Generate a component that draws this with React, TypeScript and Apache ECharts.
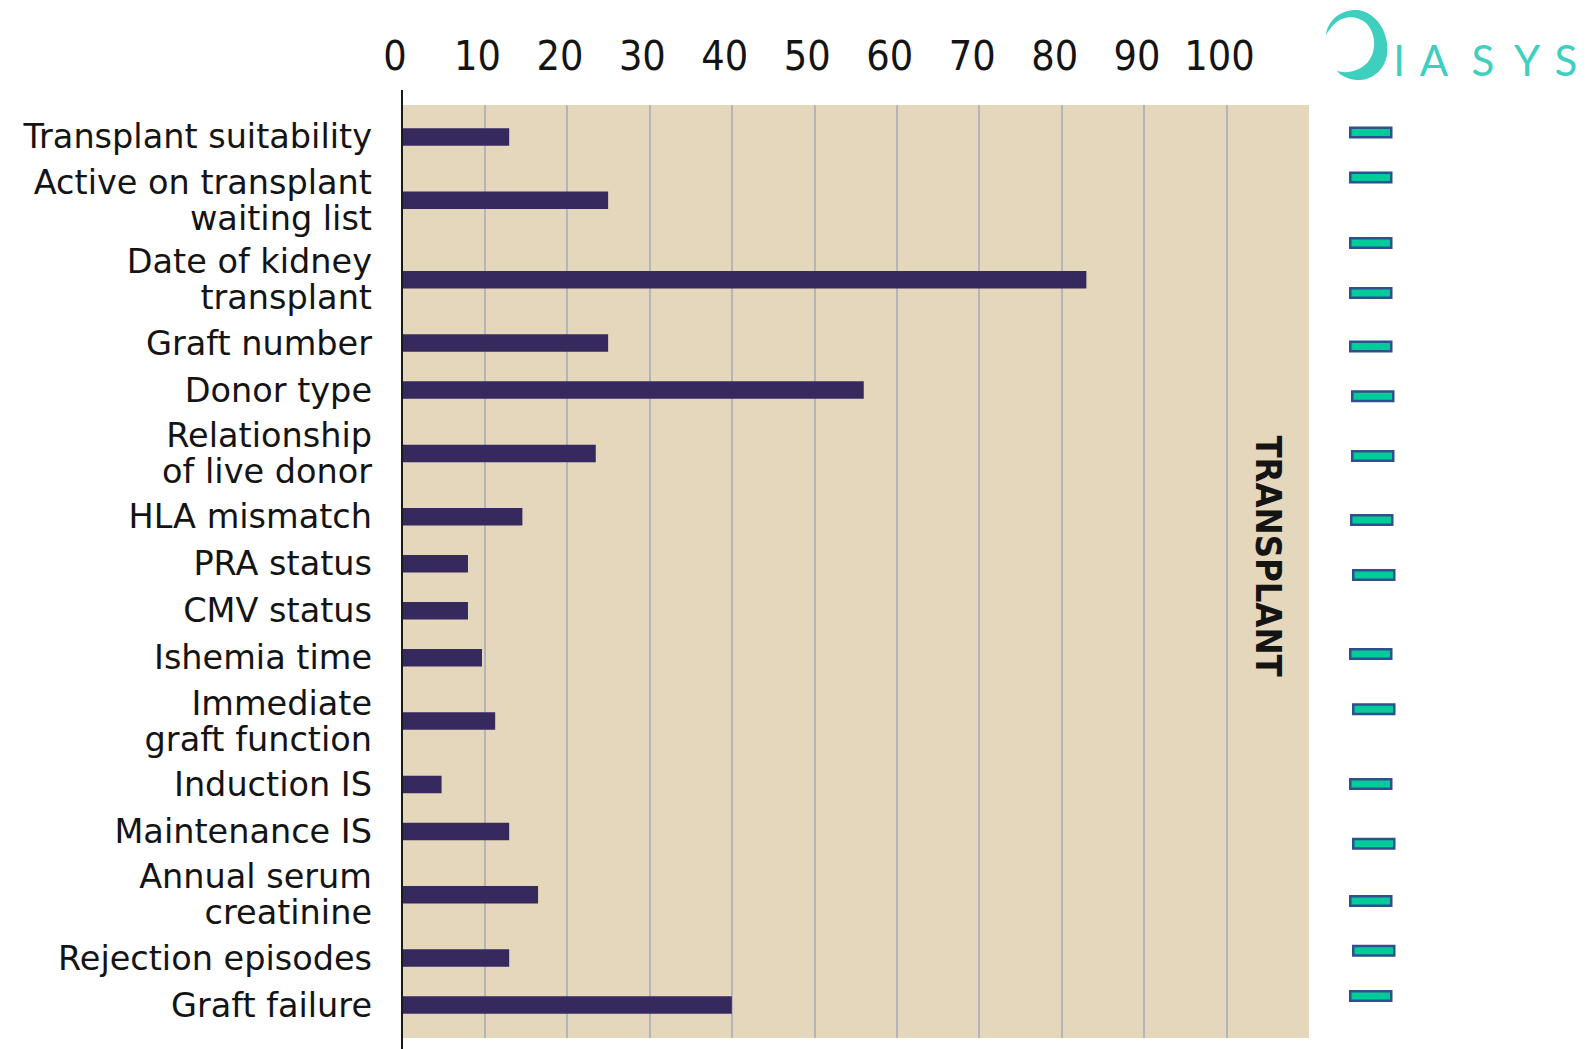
import React, { useEffect, useRef } from "react";
import * as echarts from "echarts";

// ---------- data ----------
const categories: string[] = [
  "Transplant suitability",
  "Active on transplant\nwaiting list",
  "Date of kidney\ntransplant",
  "Graft number",
  "Donor type",
  "Relationship\nof live donor",
  "HLA mismatch",
  "PRA status",
  "CMV status",
  "Ishemia time",
  "Immediate\ngraft function",
  "Induction IS",
  "Maintenance IS",
  "Annual serum\ncreatinine",
  "Rejection episodes",
  "Graft failure",
];
const values: number[] = [13, 25, 83, 25, 56, 23.5, 14.6, 8, 8, 9.7, 11.3, 4.8, 13, 16.5, 13, 40];
const xTickLabels: number[] = [0, 10, 20, 30, 40, 50, 60, 70, 80, 90, 100];
const sectionTitle = "TRANSPLANT";
const brandLetters: string[] = ["I", "A", "S", "Y", "S"];

// ---------- styles ----------
const BAR_COLOR = "#36295e";
const BG_COLOR = "#e4d7bc";
const GRID_COLOR = "#b3b5b7";
const TEXT_COLOR = "#141414";
const TEAL = "#3fcfbf";
const DASH_FILL = "#00cc99";
const DASH_STROKE = "#2f4f8f";

// row heights derived from label line counts
const rowSpan = (label: string) => (label.split("\n").length > 1 ? 1.69 : 1);
const rowCenters: number[] = [];
let acc = 0;
categories.forEach((c) => {
  const s = rowSpan(c);
  rowCenters.push(acc + s / 2);
  acc += s;
});
const totalRows = acc;

const LOGO_D =
  "M0 26 C2 10 16 0 32 1 C52 4 64 26 61 46 C58 63 44 72 30 71 C22 70 15 67 11 62 C21 65 34 62 42 53 C51 42 50 24 40 14 C33 8 24 7 16 10 C10 12 5 18 0 26 Z";

let shapeRegistered = false;

export default function App() {
  const ref = useRef<HTMLDivElement>(null);

  useEffect(() => {
    if (!ref.current) return;
    if (!shapeRegistered) {
      echarts.graphic.registerShape("logo", echarts.graphic.extendPath(LOGO_D, {}));
      shapeRegistered = true;
    }
    const chart = echarts.init(ref.current, undefined, { renderer: "svg" });

    const dashes = [
      [1349, 132.5], [1349, 177.5], [1349, 243], [1349, 293], [1349, 346.6], [1351, 396.2],
      [1351, 456], [1350, 520], [1352, 575], [1349, 654], [1352, 709.3], [1349, 784],
      [1352, 843.7], [1349, 901], [1352, 950.7], [1349, 996],
    ];
    const letterX = [1399, 1434, 1483, 1527, 1566];

    const option: any = {
      animation: false,
      backgroundColor: "#ffffff",
      grid: { left: 402, top: 105, width: 907, height: 933, show: true, backgroundColor: BG_COLOR, borderWidth: 0 },
      xAxis: {
        type: "value",
        position: "top",
        min: 0,
        max: 110,
        interval: 10,
        axisLine: { show: false },
        axisTick: { show: false },
        axisLabel: {
          formatter: (v: number) => (xTickLabels.indexOf(v) >= 0 ? String(v) : ""),
          fontSize: 41,
          fontFamily: "'Liberation Sans Narrow', 'DejaVu Sans Condensed', sans-serif",
          color: TEXT_COLOR,
          margin: 29,
          padding: [0, 14, 0, 0],
        },
        splitLine: { show: true, showMinLine: false, showMaxLine: false, lineStyle: { color: GRID_COLOR, width: 2 } },
      },
      yAxis: {
        type: "value",
        inverse: true,
        min: -0.18,
        max: totalRows + 0.2,
        show: false,
        splitLine: { show: false },
      },
      series: [
        {
          type: "custom",
          clip: false,
          data: values.map((v, i) => [v, rowCenters[i]]),
          encode: { x: 0, y: 1 },
          renderItem: (params: any, api: any) => {
            const v = api.value(0);
            const c = api.value(1);
            const start = api.coord([0, c]);
            const end = api.coord([v, c]);
            const h = 17.5;
            return {
              type: "group",
              children: [
                {
                  type: "rect",
                  shape: { x: start[0], y: start[1] - h / 2, width: end[0] - start[0], height: h },
                  style: { fill: BAR_COLOR },
                },
                {
                  type: "text",
                  style: {
                    text: categories[params.dataIndex],
                    x: start[0] - 30,
                    y: start[1],
                    align: "right",
                    verticalAlign: "middle",
                    fontSize: 33.5,
                    fontFamily: "'DejaVu Sans', sans-serif",
                    lineHeight: 36,
                    fill: TEXT_COLOR,
                  },
                },
              ],
            };
          },
        },
      ],
      graphic: [
        {
          type: "line",
          shape: { x1: 402, y1: 90, x2: 402, y2: 1049 },
          style: { stroke: "#1a1a1a", lineWidth: 2 },
          z: 100,
        },
        {
          type: "text",
          x: 1268,
          y: 556,
          rotation: -Math.PI / 2,
          z: 100,
          style: {
            text: sectionTitle,
            align: "center",
            verticalAlign: "middle",
            fontSize: 36,
            fontWeight: "bold",
            fontFamily: "'Liberation Sans Narrow', 'DejaVu Sans Condensed', sans-serif",
            fill: TEXT_COLOR,
          },
        },
        ...dashes.map(([x, y]) => ({
          type: "rect",
          shape: { x: x + 1.25, y: y - 4.75, width: 41, height: 9.5 },
          style: { fill: DASH_FILL, stroke: DASH_STROKE, lineWidth: 2.5 },
          z: 100,
        })),
        {
          type: "logo",
          x: 1326,
          y: 9,
          scaleX: 1.0,
          scaleY: 1.0,
          style: { fill: TEAL },
          z: 100,
        },
        ...brandLetters.map((l, i) => ({
          type: "text",
          x: letterX[i],
          y: 60,
          z: 100,
          style: {
            text: l,
            align: "center",
            verticalAlign: "middle",
            fontSize: 42,
            fontWeight: "normal",
            fontFamily: "Lato, 'Open Sans', sans-serif",
            fill: TEAL,
          },
        })),
      ],
    };

    chart.setOption(option);
    return () => chart.dispose();
  }, []);

  return (
    <div
      ref={ref}
      style={{ position: "absolute", left: 0, top: 0, width: 1589, height: 1049, background: "#fff" }}
    />
  );
}
